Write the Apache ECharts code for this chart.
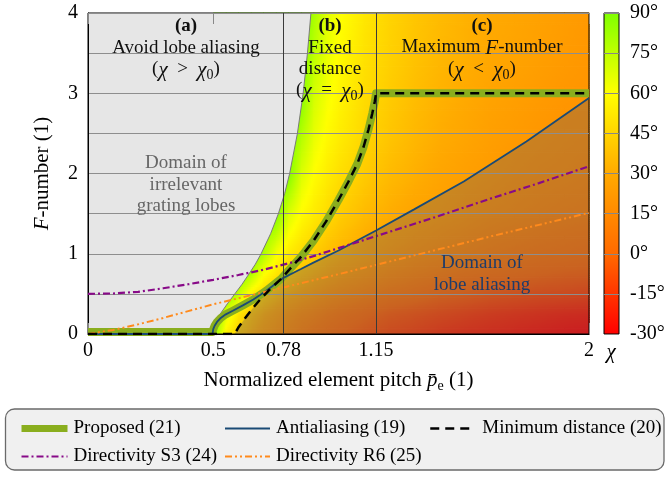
<!DOCTYPE html>
<html><head><meta charset="utf-8">
<script src="https://cdn.jsdelivr.net/npm/echarts@6/dist/echarts.min.js"></script>
<style>html,body{margin:0;padding:0;background:#fff}#c{width:669px;height:477px}</style>
</head><body><div id="c"></div>
<script>
// ---------- data ----------
const X_TICKS = [0, 0.5, 0.78, 1.15, 2];
const VLINES = [0.78, 1.15];
const CB_MIN = -30, CB_MAX = 90, CB_STEP = 15;

// heat map of chi (degrees) on a grid: columns = pitch, rows = F-number
const P_COLS = [0.5,0.55,0.6,0.65,0.7,0.75,0.8,0.85,0.9,0.95,1.0,1.1,1.2,1.3,1.4,1.5,1.6,1.7,1.8,1.9,2.0];
const F_ROWS = [0,0.25,0.5,0.75,1,1.5,2,2.5,3,3.5,4];
const CHI_F000 = [90,55,42,33,25,20,15,10,6,3,0,-5,-10,-13,-17,-20,-22,-24,-26,-28,-30];
const CHI_F025 = [90,68,51,40,32,26,21,16,13,9,6,1,-4,-7,-10,-13,-16,-18,-20,-22,-23];
const CHI_F050 = [90,90,74,56,46,39,33,28,24,20,17,12,7,4,0,-2,-5,-7,-9,-10,-12];
const CHI_F075 = [90,90,90,79,61,51,44,38,34,30,26,21,16,12,9,6,4,2,0,-2,-3];
const CHI_F100 = [90,90,90,90,79,62,53,47,42,37,34,28,23,19,16,13,10,8,6,5,3];
const CHI_F150 = [90,90,90,90,90,90,69,59,53,48,43,36,31,27,24,21,18,16,14,12,11];
const CHI_F200 = [90,90,90,90,90,90,90,69,60,54,49,42,36,32,28,25,23,20,18,17,15];
const CHI_F250 = [90,90,90,90,90,90,90,79,66,59,54,46,40,35,31,28,25,23,21,19,18];
const CHI_F300 = [90,90,90,90,90,90,90,90,71,63,57,48,42,37,33,30,27,25,23,21,20];
const CHI_F350 = [90,90,90,90,90,90,90,90,76,66,59,50,44,39,35,32,29,27,25,23,21];
const CHI_F400 = [90,90,90,90,90,90,90,90,81,68,61,52,45,40,36,33,30,28,26,24,22];
const CHI = [CHI_F000,CHI_F025,CHI_F050,CHI_F075,CHI_F100,CHI_F150,CHI_F200,CHI_F250,CHI_F300,CHI_F350,CHI_F400];

// boundary of the grating-lobe-free (grey) domain
const BOUNDARY = [[0.5,0],[0.501,0.05],[0.505,0.1],[0.515,0.17],[0.528,0.25],[0.556,0.375],[0.586,0.5],[0.615,0.62],[0.643,0.75],[0.668,0.87],[0.691,1],[0.729,1.25],[0.76,1.5],[0.785,1.75],[0.805,2],[0.836,2.5],[0.859,3],[0.876,3.5],[0.89,4]];

const PROPOSED = [[0,0.025],[0.497,0.025],[0.5,0.06],[0.505,0.1],[0.515,0.15],[0.53,0.2],[0.55,0.245],[0.578,0.29],[0.62,0.36],[0.66,0.43],[0.712,0.54],[0.772,0.69],[0.8,0.79],[0.85,0.96],[0.9,1.16],[0.95,1.4],[1.0,1.67],[1.04,1.9],[1.075,2.12],[1.1,2.33],[1.12,2.55],[1.135,2.75],[1.145,2.9],[1.15,3.0],[2.0,3.0]];
const ANTIALIAS = [[0,0],[0.497,0],[0.5,0.06],[0.505,0.1],[0.515,0.15],[0.53,0.2],[0.55,0.245],[0.578,0.29],[0.62,0.36],[0.66,0.43],[0.712,0.54],[0.78,0.70],[0.85,0.81],[0.9,0.89],[1.0,1.04],[1.15,1.29],[1.3,1.55],[1.5,1.9],[1.75,2.4],[2.0,2.94]];
const MINDIST = [[0,0],[0.585,0],[0.6,0.08],[0.63,0.21],[0.66,0.33],[0.69,0.44],[0.73,0.57],[0.772,0.69],[0.8,0.79],[0.85,0.96],[0.9,1.16],[0.95,1.4],[1.0,1.67],[1.04,1.9],[1.075,2.12],[1.1,2.33],[1.12,2.55],[1.135,2.75],[1.145,2.9],[1.15,3.0],[2.0,3.0]];
const DIR_S3 = [[0,0.5],[0.1,0.505],[0.2,0.525],[0.3,0.57],[0.4,0.62],[0.5,0.675],[0.6,0.735],[0.7,0.8],[0.8,0.88],[0.9,0.97],[1.0,1.07],[1.2,1.27],[1.4,1.47],[1.6,1.68],[1.8,1.88],[2.0,2.09]];
const DIR_R6 = [[0,0],[0.1,0.05],[0.2,0.12],[0.3,0.2],[0.4,0.285],[0.5,0.37],[0.6,0.445],[0.7,0.52],[0.8,0.595],[0.9,0.67],[1.0,0.745],[1.2,0.9],[1.4,1.055],[1.6,1.21],[1.8,1.36],[2.0,1.51]];
const CROSS_P = 0.772;

// ---------- style ----------
const CMAP = [[-30,[255,0,0]],[0,[255,106,0]],[30,[255,170,0]],[60,[255,255,0]],[90,[128,255,0]]];
const SERIF = 'Liberation Serif';
function cmap(v){
  if (v <= CMAP[0][0]) return CMAP[0][1];
  for (let k=1;k<CMAP.length;k++){
    if (v <= CMAP[k][0]){
      const a=CMAP[k-1], b=CMAP[k], t=(v-a[0])/(b[0]-a[0]);
      return [0,1,2].map(c=>Math.round(a[1][c]+(b[1][c]-a[1][c])*t));
    }
  }
  return CMAP[CMAP.length-1][1];
}
function rgb(v){const c=cmap(v);return 'rgb('+c[0]+','+c[1]+','+c[2]+')';}

const cells=[];
for (let j=0;j<F_ROWS.length-1;j++) for (let i=0;i<P_COLS.length-1;i++) cells.push([i,j]);

function renderCell(params, api){
  const i=api.value(0), j=api.value(1);
  const a=api.coord([P_COLS[i],F_ROWS[j]]), b=api.coord([P_COLS[i+1],F_ROWS[j+1]]);
  const v00=CHI[j][i], v10=CHI[j][i+1], v01=CHI[j+1][i], v11=CHI[j+1][i+1];
  const x0=a[0], w=b[0]-a[0], yb=a[1], h=a[1]-b[1];
  const ny=Math.max(1,Math.ceil(h/2)), ns=Math.max(2,Math.ceil(w/3)+1);
  const ch=[];
  for (let k=0;k<ny;k++){
    const t=(k+0.5)/ny;
    const vl=v00+(v01-v00)*t, vr=v10+(v11-v10)*t;
    const stops=[];
    for (let s=0;s<ns;s++){const u=s/(ns-1);stops.push({offset:u,color:rgb(vl+(vr-vl)*u)});}
    const y=yb-(k+1)*h/ny;
    ch.push({type:'rect',shape:{x:x0,y:y-0.4,width:w+0.7,height:h/ny+0.8},
      style:{fill:{type:'linear',x:0,y:0,x2:1,y2:0,colorStops:stops}},silent:true});
  }
  return {type:'group',children:ch};
}

function polyRender(points, fill){
  return function(params, api){
    if (params.dataIndex!==0) return null;
    return {type:'polygon',shape:{points:points.map(p=>api.coord(p))},style:{fill:fill},silent:true};
  };
}
const GREY_POLY = [[0,0]].concat(BOUNDARY).concat([[0,4]]);
const OVERLAY_POLY = MINDIST.filter(p=>p[0]>=0.585 && p[0]<=CROSS_P)
  .concat(ANTIALIAS.filter(p=>p[0]>CROSS_P)).concat([[2,0]]);

const lineBase = {type:'line',symbol:'none',showSymbol:false,xAxisIndex:0,yAxisIndex:0,animation:false};

const rich = {
  n:{fontFamily:SERIF,fontSize:19,color:'#111',verticalAlign:'top',lineHeight:21},
  i:{fontFamily:SERIF,fontSize:21,fontStyle:'italic',color:'#111',verticalAlign:'top',lineHeight:21},
  s:{fontFamily:SERIF,fontSize:14,color:'#111',verticalAlign:'top',lineHeight:14,padding:[9,0,0,0]},
  b:{fontFamily:SERIF,fontSize:19,fontWeight:'bold',color:'#111',verticalAlign:'top',lineHeight:21}
};
function txt(x,y,text,color,size){
  return {type:'text',x:x,y:y,z:100,silent:true,
    style:{text:text,align:'center',verticalAlign:'middle',fontFamily:SERIF,fontSize:size||19,fill:color||'#111',rich:rich}};
}
const CHI_S = '{i|\u03c7}';
function relation(op){ return '{n|(}'+CHI_S+'{n|  '+op+'  }'+CHI_S+'{s|0}{n|)}'; }

const legendText = {fontFamily:SERIF,fontSize:19,color:'#000',padding:[0,0,0,1]};
const legendCommon = {top:414,orient:'vertical',itemGap:9,itemHeight:19,selectedMode:false,itemStyle:{opacity:0}};

const chart = echarts.init(document.getElementById('c'),null,{renderer:'canvas'});
chart.setOption({
  animation:false,
  grid:[
    {left:88,top:13,width:501,height:321,show:true,borderColor:'#000',borderWidth:1,backgroundColor:'transparent'},
    {left:604,top:13,width:15,height:321,show:true,borderColor:'#000',borderWidth:1,backgroundColor:'transparent'}
  ],
  xAxis:[
    {gridIndex:0,type:'value',min:0,max:2,position:'bottom',
     axisLine:{show:true,lineStyle:{color:'#000'}},
     axisTick:{show:true,inside:true,length:11,customValues:X_TICKS,lineStyle:{color:'#888'}},
     axisLabel:{customValues:X_TICKS,fontFamily:SERIF,fontSize:20,color:'#000',margin:7,formatter:v=>String(v)},
     splitLine:{show:false},
     name:'{n|Normalized element pitch }{i|p\u0304}{s|e}{n| (1)}',nameLocation:'middle',nameGap:36,
     nameTextStyle:{rich:{
       n:{fontFamily:SERIF,fontSize:21,color:'#000',verticalAlign:'top',lineHeight:22},
       i:{fontFamily:SERIF,fontSize:21,fontStyle:'italic',color:'#000',verticalAlign:'top',lineHeight:22},
       s:{fontFamily:SERIF,fontSize:14,color:'#000',verticalAlign:'top',lineHeight:14,padding:[9,0,0,0]}}}},
    {gridIndex:0,type:'value',min:0,max:2,position:'top',
     axisLine:{show:false},axisLabel:{show:false},splitLine:{show:false},
     axisTick:{show:true,inside:true,length:11,customValues:X_TICKS,lineStyle:{color:'#888'}}},
    {gridIndex:1,type:'value',min:0,max:1,show:false}
  ],
  yAxis:[
    {gridIndex:0,type:'value',min:0,max:4,interval:0.5,
     axisLine:{show:true,lineStyle:{color:'#000'}},axisTick:{show:false},
     axisLabel:{fontFamily:SERIF,fontSize:20,color:'#000',margin:10,formatter:v=>Number.isInteger(v)?String(v):''},
     splitLine:{show:true,lineStyle:{color:'#8e8e8e',width:1}},
     name:'{i|F}{n|-number (1)}',nameLocation:'middle',nameGap:35,nameRotate:90,
     nameTextStyle:{rich:{
       n:{fontFamily:SERIF,fontSize:21,color:'#000'},
       i:{fontFamily:SERIF,fontSize:21,fontStyle:'italic',color:'#000'}}}},
    {gridIndex:1,type:'value',min:CB_MIN,max:CB_MAX,interval:CB_STEP,position:'right',
     axisLine:{show:false},axisTick:{show:false},
     axisLabel:{fontFamily:SERIF,fontSize:20,color:'#000',margin:11,formatter:v=>v+'\u00b0'},
     splitLine:{show:true,lineStyle:{color:'#888',width:1}}}
  ],
  legend:[
    Object.assign({},legendCommon,{left:13,itemWidth:46,textStyle:legendText,
      data:[{name:'Proposed (21)',lineStyle:{width:7}},{name:'Directivity S3 (24)',lineStyle:{width:2.2}}]}),
    Object.assign({},legendCommon,{left:219,itemWidth:45,textStyle:legendText,
      data:[{name:'Antialiasing (19)',lineStyle:{width:1.8}},{name:'Directivity R6 (25)',lineStyle:{width:2}}]}),
    Object.assign({},legendCommon,{left:424,itemWidth:42,textStyle:Object.assign({},legendText,{padding:[0,0,0,5]}),
      data:[{name:'Minimum distance (20)',lineStyle:{width:2.5}}]})
  ],
  graphic:[
    {type:'rect',z:-50,shape:{x:5.5,y:409,width:658.5,height:61,r:9},style:{fill:'#f0f0f0',stroke:'#6a6a6a',lineWidth:1.3},silent:true},
    txt(186,27,'{b|(a)}'),
    txt(186,48,'Avoid lobe aliasing'),
    txt(186,70,relation('>')),
    txt(330,27,'{b|(b)}'),
    txt(330,48,'Fixed'),
    txt(330,69,'distance'),
    txt(330,91,relation('=')),
    txt(482,27,'{b|(c)}'),
    txt(482,48,'{n|Maximum }{i|F}{n|-number}'),
    txt(482,70,relation('<')),
    txt(186,163,'Domain of','#666'),
    txt(186,185,'irrelevant','#666'),
    txt(186,206,'grating lobes','#666'),
    txt(482,263,'Domain of','#1e3c6a'),
    txt(482,285,'lobe aliasing','#1e3c6a'),
    {type:'text',x:611,y:352,silent:true,style:{text:'\u03c7',align:'center',verticalAlign:'middle',fontFamily:SERIF,fontSize:21,fontStyle:'italic',fill:'#000'}}
  ],
  series:[
    {type:'custom',name:'chi',xAxisIndex:0,yAxisIndex:0,z:-10,data:cells,renderItem:renderCell,silent:true},
    {type:'custom',name:'grey',xAxisIndex:0,yAxisIndex:0,z:-9,data:[[0,0]],renderItem:polyRender(GREY_POLY,'#e6e6e6'),silent:true},
    {type:'custom',name:'aliasing',xAxisIndex:0,yAxisIndex:0,z:-8,data:[[0,0]],renderItem:polyRender(OVERLAY_POLY,'rgba(90,85,100,0.32)'),silent:true},
    {type:'custom',name:'colorbar',xAxisIndex:2,yAxisIndex:1,z:-10,data:[[0,CB_MIN]],silent:true,
     renderItem:function(params,api){
       const a=api.coord([0,CB_MIN]), b=api.coord([1,CB_MAX]);
       const stops=CMAP.map(s=>({offset:(CB_MAX-s[0])/(CB_MAX-CB_MIN),color:'rgb('+s[1].join(',')+')'}));
       return {type:'rect',shape:{x:a[0],y:b[1],width:b[0]-a[0],height:a[1]-b[1]},
         style:{fill:{type:'linear',x:0,y:0,x2:0,y2:1,colorStops:stops}}};
     }},
    Object.assign({},lineBase,{name:'boundary',data:BOUNDARY,z:1,lineStyle:{color:'#7a7a7a',width:1},silent:true}),
    Object.assign({},lineBase,{name:'vlines',data:[],z:1,silent:true,
      markLine:{symbol:'none',silent:true,label:{show:false},lineStyle:{color:'#3a3a3a',width:1,type:'solid'},
        data:VLINES.map(v=>({xAxis:v}))}}),
    Object.assign({},lineBase,{name:'Proposed (21)',data:PROPOSED,z:3,lineStyle:{color:'#8aae1e',width:8,cap:'butt',join:'round'},itemStyle:{color:'#8aae1e'}}),
    Object.assign({},lineBase,{name:'Antialiasing (19)',data:ANTIALIAS,z:4,lineStyle:{color:'#1a4a75',width:1.8},itemStyle:{color:'#1a4a75'}}),
    Object.assign({},lineBase,{name:'Minimum distance (20)',data:MINDIST,z:5,lineStyle:{color:'#000',width:2.5,type:[9,6]},itemStyle:{color:'#000'}}),
    Object.assign({},lineBase,{name:'Directivity S3 (24)',data:DIR_S3,z:4,lineStyle:{color:'#880a88',width:2.2,type:[7,3,2,3]},itemStyle:{color:'#880a88'}}),
    Object.assign({},lineBase,{name:'Directivity R6 (25)',data:DIR_R6,z:4,lineStyle:{color:'#ff8a1c',width:2,type:[7,3,2,3,2,3]},itemStyle:{color:'#ff8a1c'}})
  ]
});
</script></body></html>
